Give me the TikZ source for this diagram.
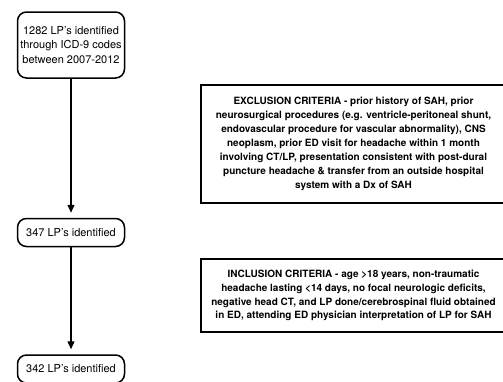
\documentclass[tikz,border=0pt]{standalone}
\usepackage{fontspec}
\setmainfont{TeX Gyre Heros}
\usetikzlibrary{positioning,arrows.meta}

\begin{document}
\begin{tikzpicture}[
        x=1pt, y=-1pt,
        count/.style={rectangle, draw, rounded corners=9pt, line width=1.5pt, minimum width=107pt, minimum height=28pt, align=center, inner sep=2pt, font=\fontsize{11}{14.5}\selectfont},
        crit/.style={rectangle, draw, line width=1.8pt, minimum width=305pt, align=center, inner sep=0pt, font=\fontsize{10}{13.9}\selectfont\bfseries},
        flow/.style={-{Triangle[length=8pt, width=7pt]}, line width=1.3pt, shorten >=5pt},
      ]
      \useasboundingbox (0,0) rectangle (503,381);

      % Counts
      \node[count, minimum height=66pt] (lp1282) at (71,45) {1282 LP's identified\\through ICD-9 codes\\between 2007-2012};
      \node[count, below=139pt of lp1282] (lp347) {347 LP's identified};
      \node[count, below=107pt of lp347] (lp342) {342 LP's identified};

      % Criteria
      \node[crit, minimum height=118pt] (excl) at (353.5,144) {EXCLUSION CRITERIA - prior history of SAH, prior\\neurosurgical procedures (e.g. ventricle-peritoneal shunt,\\endovascular procedure for vascular abnormality), CNS\\neoplasm, prior ED visit for headache within 1 month\\involving CT/LP, presentation consistent with post-dural\\puncture headache \& transfer from an outside hospital\\system with a Dx of SAH};
      \node[crit, minimum height=73pt] (incl) at (353.5,295.5) {INCLUSION CRITERIA - age >18 years, non-traumatic\\headache lasting <14 days, no focal neurologic deficits,\\negative head CT, and LP done/cerebrospinal fluid obtained\\in ED, attending ED physician interpretation of LP for SAH};

      % Connections
      \draw[flow] (lp1282) -- (lp347);
      \draw[flow] (lp347) -- (lp342);

    \end{tikzpicture}
\end{document}
